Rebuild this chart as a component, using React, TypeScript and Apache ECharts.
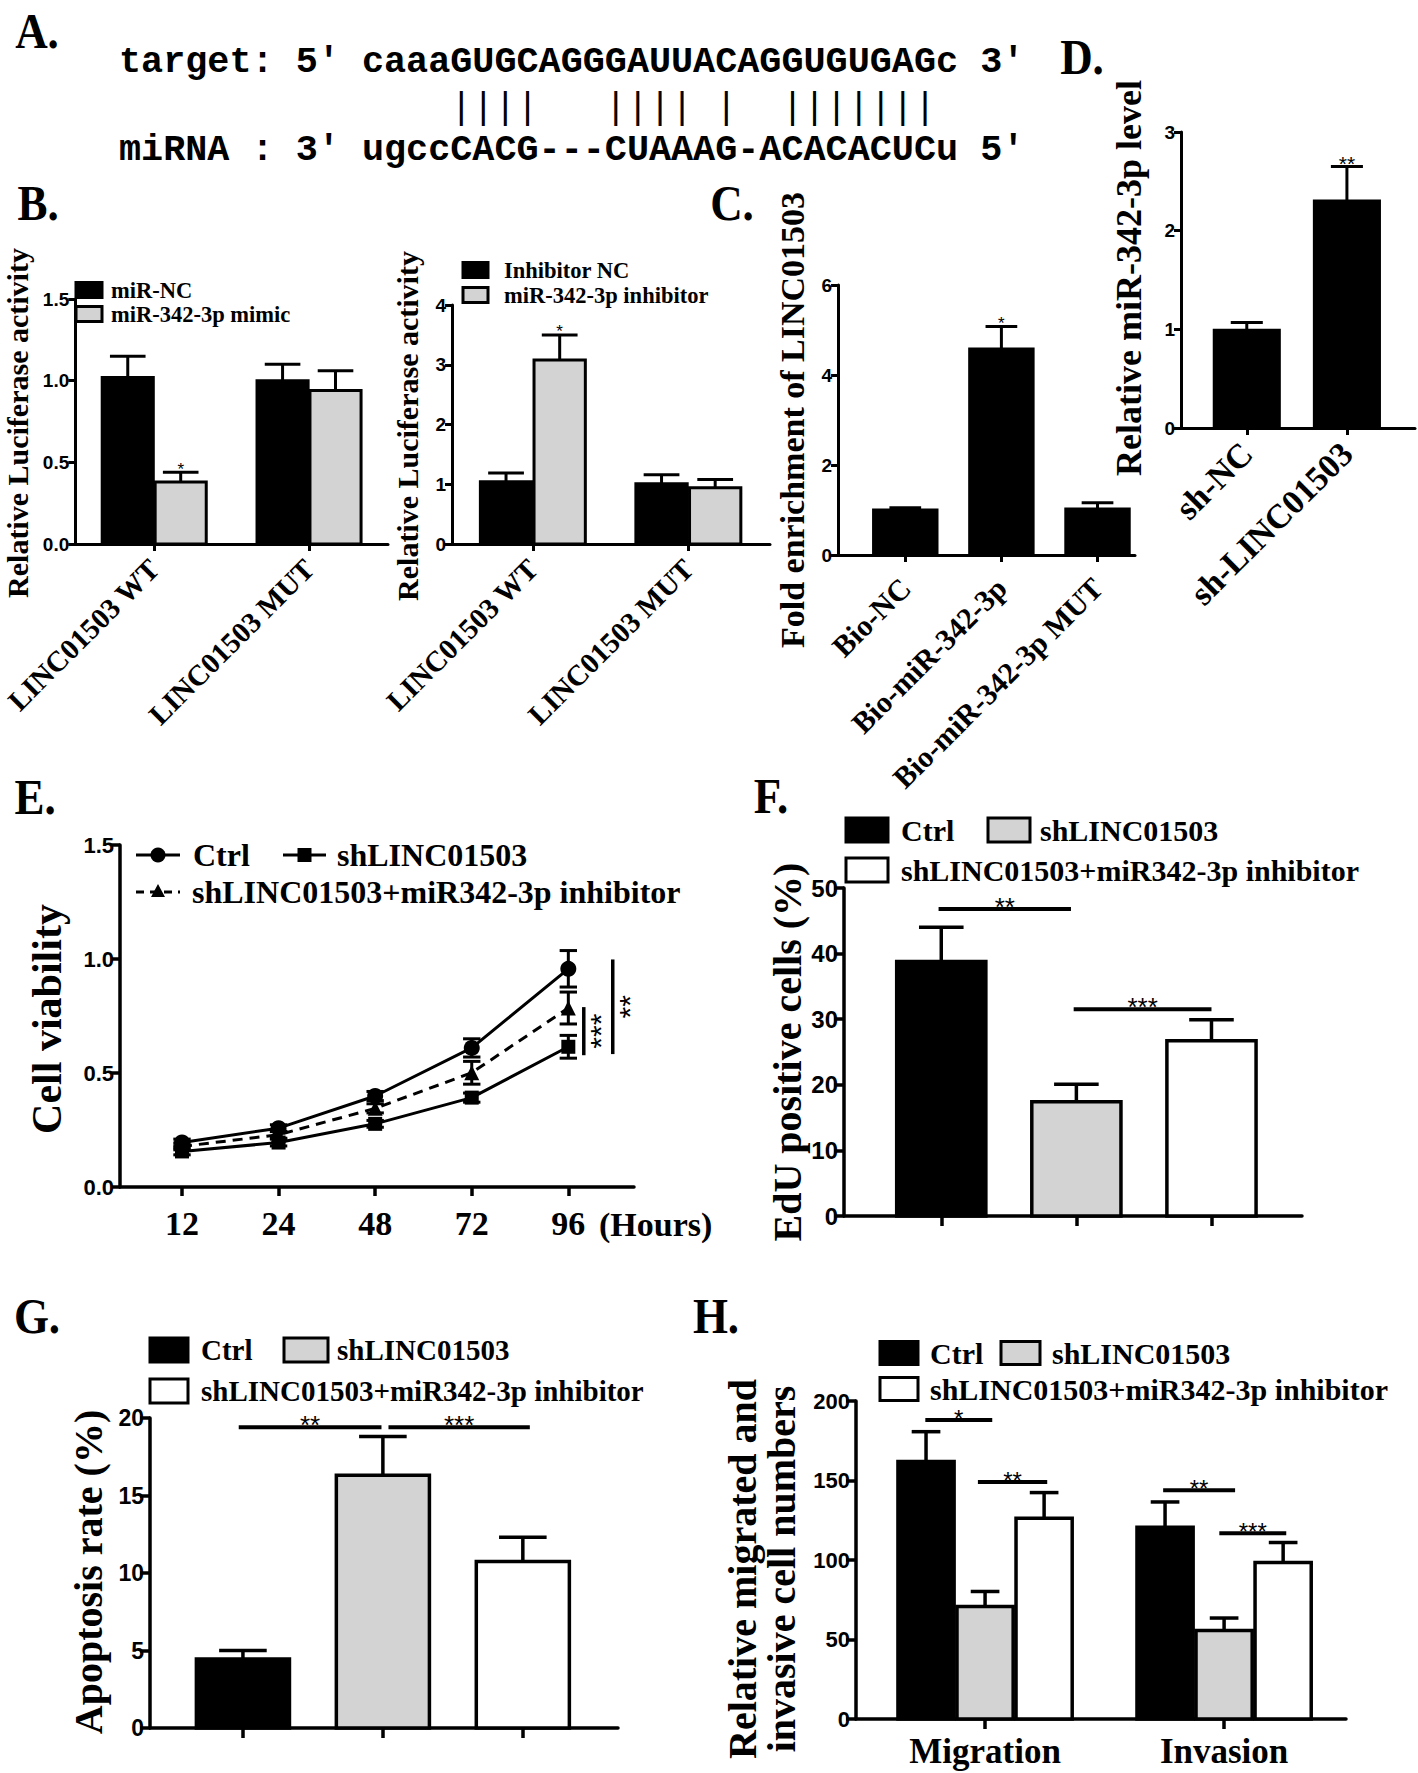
import React, { useEffect, useRef } from "react";
import * as echarts from "echarts";

const PAGE_W = 1418;
const PAGE_H = 1773;
const SERIF = "'Liberation Serif', 'Times New Roman', serif";
const SANS = "'Liberation Sans', Arial, sans-serif";
const MONO = "'Liberation Mono', 'Courier New', monospace";
const FILLS = ["#000000", "#d3d3d3", "#ffffff"];

// ---------------- DATA ----------------
// Panel A
const targetLine = "target: 5' caaaGUGCAGGGAUUACAGGUGUGAGc 3'";
const mirnaLine = "miRNA : 3' ugccCACG---CUAAAG-ACACACUCu 5'";
const pairRuns: [number, number][] = [[15, 4], [22, 4], [27, 1], [30, 7]];

// Panel B
const bCategories = ["LINC01503 WT", "LINC01503 MUT"];
const b1Groups = ["miR-NC", "miR-342-3p mimic"];
const b1Means = [[1.02, 1.0], [0.38, 0.94]];
const b1Upper = [[1.15, 1.1], [0.44, 1.06]];
const b1Stars = [["", ""], ["*", ""]];
const b2Groups = ["Inhibitor NC", "miR-342-3p inhibitor"];
const b2Means = [[1.04, 1.01], [3.08, 0.94]];
const b2Upper = [[1.19, 1.16], [3.5, 1.08]];
const b2Stars = [["", ""], ["*", ""]];

// Panel C
const cCategories = ["Bio-NC", "Bio-miR-342-3p", "Bio-miR-342-3p MUT"];
const cMeans = [1.0, 4.58, 1.02];
const cUpper = [1.05, 5.08, 1.16];
const cStars = ["", "*", ""];

// Panel D
const dCategories = ["sh-NC", "sh-LINC01503"];
const dMeans = [0.99, 2.3];
const dUpper = [1.07, 2.65];
const dStars = ["", "**"];

// Panel E
const eHours = ["12", "24", "48", "72", "96"];
const eNames = ["Ctrl", "shLINC01503", "shLINC01503+miR342-3p inhibitor"];
const eCtrl = [0.195, 0.258, 0.399, 0.61, 0.957];
const eCtrlSd = [0.015, 0.015, 0.02, 0.04, 0.08];
const eSh = [0.156, 0.195, 0.277, 0.392, 0.615];
const eShSd = [0.015, 0.015, 0.015, 0.02, 0.05];
const eInh = [0.178, 0.229, 0.345, 0.501, 0.785];
const eInhSd = [0.015, 0.015, 0.02, 0.05, 0.07];
const eSig = [
  { x: 4.16, y1: 0.578, y2: 0.789, label: "***" },
  { x: 4.46, y1: 0.583, y2: 0.998, label: "**" },
];

// Panels F, G, H
const groupNames = ["Ctrl", "shLINC01503", "shLINC01503+miR342-3p inhibitor"];
const fMeans = [38.8, 17.4, 26.7];
const fUpper = [44.0, 20.1, 29.9];
const fSig = [
  { x1: -0.02, x2: 0.96, y: 46.8, label: "**" },
  { x1: 0.98, x2: 2.0, y: 31.5, label: "***" },
];
const gMeans = [4.45, 16.3, 10.75];
const gUpper = [5.0, 18.8, 12.3];
const gSig = [
  { x1: -0.03, x2: 0.99, y: 19.4, label: "**" },
  { x1: 1.04, x2: 2.05, y: 19.4, label: "***" },
];
const hCategories = ["Migration", "Invasion"];
const hMeans = [[161.9, 120.6], [70.8, 55.7], [126.3, 98.4]];
const hUpper = [[180.7, 136.5], [80.2, 63.5], [142.4, 111.0]];
const hSig = [
  { x1: -0.25, x2: 0.03, y: 188, label: "*" },
  { x1: -0.03, x2: 0.26, y: 149, label: "**" },
  { x1: 0.745, x2: 1.046, y: 143.9, label: "**" },
  { x1: 0.98, x2: 1.26, y: 116.9, label: "***" },
];

// ---------------- HELPERS ----------------
type Item = { x: number; v: number; up: number; fill: number; star: string };
type Sig = { x1: number; x2: number; y: number; label: string };

function grouped(means: number[][], upper: number[][], stars: string[][] | null, step: number): Item[] {
  const n = means.length;
  const out: Item[] = [];
  means.forEach((row, j) =>
    row.forEach((v, i) =>
      out.push({ x: i + (j - (n - 1) / 2) * step, v, up: upper[j][i], fill: j, star: stars ? stars[j][i] : "" })
    )
  );
  return out;
}
function single(means: number[], upper: number[], stars: string[] | null, colorByCat: boolean): Item[] {
  return means.map((v, i) => ({ x: i, v, up: upper[i], fill: colorByCat ? i : 0, star: stars ? stars[i] : "" }));
}

interface PanelCfg {
  grid: { left: number; top: number; width: number; height: number };
  xMin: number;
  xMax: number;
  cats: string[];
  catRotate: number;
  catFont: number;
  catMargin: number;
  yMax: number;
  yInterval: number;
  yDecimals: number;
  tickSize: number;
  tickLen: number;
  lw: number;
}

function addAxes(opt: any, cfg: PanelCfg) {
  const gi = opt.grid.length;
  opt.grid.push({ ...cfg.grid, containLabel: false });
  const ticks = cfg.cats.map((_, i) => i);
  opt.xAxis.push({
    type: "value",
    gridIndex: gi,
    min: cfg.xMin,
    max: cfg.xMax,
    axisLine: { show: true, onZero: false, lineStyle: { color: "#000", width: cfg.lw } },
    axisTick: { show: true, customValues: ticks, length: cfg.tickLen, lineStyle: { color: "#000", width: cfg.lw } },
    axisLabel: cfg.catFont
      ? {
          show: true,
          customValues: ticks,
          formatter: (v: number) => cfg.cats[Math.round(v)] ?? "",
          rotate: cfg.catRotate,
          margin: cfg.catMargin,
          fontFamily: SERIF,
          fontWeight: "bold",
          fontSize: cfg.catFont,
          color: "#000",
        }
      : { show: false },
    splitLine: { show: false },
  });
  opt.yAxis.push({
    type: "value",
    gridIndex: gi,
    min: 0,
    max: cfg.yMax,
    interval: cfg.yInterval,
    axisLine: { show: true, onZero: false, lineStyle: { color: "#000", width: cfg.lw } },
    axisTick: { show: true, length: cfg.tickLen, lineStyle: { color: "#000", width: cfg.lw } },
    axisLabel: {
      formatter: (v: number) => v.toFixed(cfg.yDecimals),
      fontFamily: SANS,
      fontWeight: "bold",
      fontSize: cfg.tickSize,
      color: "#000",
      margin: 6,
    },
    splitLine: { show: false },
  });
  return gi;
}

function addBars(opt: any, gi: number, items: Item[], barW: number, capW: number, lw: number, starSize: number) {
  opt.series.push({
    type: "custom",
    xAxisIndex: gi,
    yAxisIndex: gi,
    clip: false,
    z: 3,
    data: items.map((it) => [it.x, it.v]),
    encode: { x: 0, y: 1 },
    renderItem: (params: any, api: any) => {
      const it = items[params.dataIndex];
      const a = api.coord([it.x - barW / 2, it.v]);
      const b = api.coord([it.x + barW / 2, 0]);
      return {
        type: "rect",
        shape: { x: a[0], y: a[1], width: b[0] - a[0], height: b[1] - a[1] },
        style: { fill: FILLS[it.fill], stroke: "#000", lineWidth: lw },
      };
    },
  });
  opt.series.push({
    type: "custom",
    xAxisIndex: gi,
    yAxisIndex: gi,
    clip: false,
    z: 4,
    data: items.map((it) => [it.x, it.up]),
    encode: { x: 0, y: 1 },
    renderItem: (params: any, api: any) => {
      const it = items[params.dataIndex];
      const p0 = api.coord([it.x, it.v]);
      const p1 = api.coord([it.x, it.up]);
      const half = api.size([capW, 0])[0] / 2;
      const children: any[] = [
        { type: "line", shape: { x1: p0[0], y1: p0[1], x2: p1[0], y2: p1[1] }, style: { stroke: "#000", lineWidth: lw } },
        { type: "line", shape: { x1: p1[0] - half, y1: p1[1], x2: p1[0] + half, y2: p1[1] }, style: { stroke: "#000", lineWidth: lw } },
      ];
      if (it.star) {
        children.push({
          type: "text",
          x: p1[0],
          y: p1[1] - 3,
          style: { text: it.star, fontFamily: SANS, fontSize: starSize, fill: "#000", align: "center", verticalAlign: "middle", textAlign: "center", textVerticalAlign: "middle" },
        });
      }
      return { type: "group", children };
    },
  });
}

function addBrackets(opt: any, gi: number, sigs: Sig[], starSize: number) {
  opt.series.push({
    type: "custom",
    xAxisIndex: gi,
    yAxisIndex: gi,
    clip: false,
    z: 5,
    data: sigs.map((s) => [s.x1, s.y]),
    encode: { x: 0, y: 1 },
    renderItem: (params: any, api: any) => {
      const s = sigs[params.dataIndex];
      const a = api.coord([s.x1, s.y]);
      const b = api.coord([s.x2, s.y]);
      return {
        type: "group",
        children: [
          { type: "line", shape: { x1: a[0], y1: a[1], x2: b[0], y2: b[1] }, style: { stroke: "#000", lineWidth: 4 } },
          {
            type: "text",
            x: (a[0] + b[0]) / 2,
            y: a[1] - 2,
            style: { text: s.label, fontFamily: SANS, fontSize: starSize, fill: "#000", align: "center", verticalAlign: "middle", textAlign: "center", textVerticalAlign: "middle" },
          },
        ],
      };
    },
  });
}

function txt(text: string, x: number, y: number, fs: number, opts: any = {}) {
  return {
    type: "text",
    x,
    y,
    rotation: opts.rotation || 0,
    scaleX: opts.scaleX || 1,
    style: {
      text,
      fontFamily: opts.family || SERIF,
      fontWeight: opts.weight || "bold",
      fontSize: fs,
      fill: "#000",
      align: opts.align || "left",
      verticalAlign: "middle",
      textAlign: opts.align || "left",
      textVerticalAlign: "middle",
    },
  };
}
function vtitle(text: string, x: number, y: number, fs: number) {
  return txt(text, x, y, fs, { rotation: Math.PI / 2, align: "center" });
}
function letter(text: string, x: number, y: number) {
  return txt(text, x, y, 50, { align: "center", scaleX: 0.9 });
}
function legendBox(x: number, yc: number, w: number, h: number, fill: string, label: string, tx: number, fs: number) {
  return [
    { type: "rect", shape: { x, y: yc - h / 2, width: w, height: h }, style: { fill, stroke: "#000", lineWidth: 3 } },
    txt(label, tx, yc, fs),
  ];
}

function buildOption() {
  const opt: any = { animation: false, backgroundColor: "#fff", grid: [], xAxis: [], yAxis: [], series: [], graphic: { elements: [] } };
  const g: any[] = opt.graphic.elements;

  // ---- Panel A ----
  const aFs = 36.8;
  const cw = aFs * 0.6;
  const ax = 119;
  g.push(letter("A.", 37, 31));
  g.push(txt(targetLine, ax, 62, aFs, { family: MONO }));
  pairRuns.forEach(([start, len]) => g.push(txt("|".repeat(len), ax + start * cw, 108, aFs, { family: MONO, weight: "normal" })));
  g.push(txt(mirnaLine, ax, 150, aFs, { family: MONO }));

  // ---- Panel B left ----
  const base = { catRotate: 45, tickSize: 19, tickLen: 7, lw: 3 };
  let gi = addAxes(opt, { ...base, grid: { left: 72, top: 299, width: 316, height: 245 }, xMin: -0.51, xMax: 1.51, cats: bCategories, catFont: 29, catMargin: 20, yMax: 1.5, yInterval: 0.5, yDecimals: 1 });
  addBars(opt, gi, grouped(b1Means, b1Upper, b1Stars, 0.342), 0.33, 0.23, 3, 17);
  g.push(letter("B.", 38, 203));
  g.push(vtitle("Relative Luciferase activity", 17, 423, 30));
  g.push(...legendBox(76, 290, 26, 15, FILLS[0], b1Groups[0], 111, 22.5));
  g.push(...legendBox(76, 314, 26, 15, FILLS[1], b1Groups[1], 111, 22.5));

  // ---- Panel B right ----
  gi = addAxes(opt, { ...base, grid: { left: 452, top: 305, width: 318, height: 239 }, xMin: -0.52, xMax: 1.525, cats: bCategories, catFont: 29, catMargin: 20, yMax: 4, yInterval: 1, yDecimals: 0 });
  addBars(opt, gi, grouped(b2Means, b2Upper, b2Stars, 0.345), 0.33, 0.23, 3, 17);
  g.push(vtitle("Relative Luciferase activity", 407, 426, 30));
  g.push(...legendBox(463, 270, 25, 15, FILLS[0], b2Groups[0], 504, 22.5));
  g.push(...legendBox(463, 295, 25, 15, FILLS[1], b2Groups[1], 504, 22.5));

  // ---- Panel C ----
  gi = addAxes(opt, { ...base, grid: { left: 838, top: 285, width: 297, height: 270 }, xMin: -0.7, xMax: 2.39, cats: cCategories, catFont: 30, catMargin: 28, yMax: 6, yInterval: 2, yDecimals: 0 });
  addBars(opt, gi, single(cMeans, cUpper, cStars, false), 0.66, 0.33, 3, 17);
  g.push(letter("C.", 732, 203));
  g.push(vtitle("Fold enrichment of LINC01503", 792, 420, 34));

  // ---- Panel D ----
  gi = addAxes(opt, { ...base, grid: { left: 1181, top: 132, width: 234, height: 296 }, xMin: -0.657, xMax: 1.68, cats: dCategories, catFont: 34, catMargin: 20, yMax: 3, yInterval: 1, yDecimals: 0 });
  addBars(opt, gi, single(dMeans, dUpper, dStars, false), 0.65, 0.32, 3, 21);
  g.push(letter("D.", 1082, 57));
  g.push(vtitle("Relative miR-342-3p level", 1129, 278, 36));

  // ---- Panel E ----
  const eCfg: PanelCfg = { grid: { left: 120, top: 845, width: 514, height: 342 }, xMin: -0.642, xMax: 4.68, cats: eHours, catRotate: 0, catFont: 34, catMargin: 19, yMax: 1.5, yInterval: 0.5, yDecimals: 1, tickSize: 22, tickLen: 9, lw: 3.5 };
  gi = addAxes(opt, eCfg);
  const eSets = [
    { name: eNames[0], vals: eCtrl, sd: eCtrlSd, sym: "circle", size: 16, dash: false },
    { name: eNames[1], vals: eSh, sd: eShSd, sym: "rect", size: 14, dash: false },
    { name: eNames[2], vals: eInh, sd: eInhSd, sym: "triangle", size: 15, dash: true },
  ];
  eSets.forEach((s) => {
    opt.series.push({
      type: "line",
      name: s.name,
      xAxisIndex: gi,
      yAxisIndex: gi,
      data: s.vals.map((v, i) => [i, v]),
      symbol: s.sym,
      symbolSize: s.size,
      itemStyle: { color: "#000" },
      lineStyle: { color: "#000", width: 3, type: s.dash ? [10, 7] : "solid" },
      z: 3,
    });
    opt.series.push({
      type: "custom",
      xAxisIndex: gi,
      yAxisIndex: gi,
      clip: false,
      z: 4,
      data: s.vals.map((v, i) => [i, v - s.sd[i], v + s.sd[i]]),
      encode: { x: 0, y: [1, 2] },
      renderItem: (params: any, api: any) => {
        const x = api.value(0);
        const lo = api.coord([x, api.value(1)]);
        const hi = api.coord([x, api.value(2)]);
        const half = api.size([0.18, 0])[0] / 2;
        const st = { stroke: "#000", lineWidth: 3 };
        return {
          type: "group",
          children: [
            { type: "line", shape: { x1: lo[0], y1: lo[1], x2: hi[0], y2: hi[1] }, style: st },
            { type: "line", shape: { x1: lo[0] - half, y1: lo[1], x2: lo[0] + half, y2: lo[1] }, style: st },
            { type: "line", shape: { x1: hi[0] - half, y1: hi[1], x2: hi[0] + half, y2: hi[1] }, style: st },
          ],
        };
      },
    });
  });
  opt.series.push({
    type: "custom",
    xAxisIndex: gi,
    yAxisIndex: gi,
    clip: false,
    z: 5,
    data: eSig.map((s) => [s.x, s.y1, s.y2]),
    encode: { x: 0, y: [1, 2] },
    renderItem: (params: any, api: any) => {
      const s = eSig[params.dataIndex];
      const a = api.coord([s.x, s.y1]);
      const b = api.coord([s.x, s.y2]);
      const t = api.coord([s.x + 0.17, (s.y1 + s.y2) / 2]);
      return {
        type: "group",
        children: [
          { type: "line", shape: { x1: a[0], y1: a[1], x2: b[0], y2: b[1] }, style: { stroke: "#000", lineWidth: 3.5 } },
          {
            type: "text",
            x: t[0],
            y: t[1],
            rotation: Math.PI / 2,
            style: { text: s.label, fontFamily: SANS, fontSize: 30, fill: "#000", align: "center", verticalAlign: "middle", textAlign: "center", textVerticalAlign: "middle" },
          },
        ],
      };
    },
  });
  g.push(letter("E.", 35, 797));
  g.push(vtitle("Cell viability", 47, 1019, 42));
  g.push(txt("(Hours)", 599, 1224, 34));
  // E legend
  const eL = (y: number, x0: number, x1: number, kind: string, dash: boolean) => {
    const xc = (x0 + x1) / 2;
    const els: any[] = [{ type: "line", shape: { x1: x0, y1: y, x2: x1, y2: y }, style: { stroke: "#000", lineWidth: 3, lineDash: dash ? [8, 6] : null } }];
    if (kind === "circle") els.push({ type: "circle", shape: { cx: xc, cy: y, r: 7.5 }, style: { fill: "#000" } });
    if (kind === "rect") els.push({ type: "rect", shape: { x: xc - 7, y: y - 7, width: 14, height: 14 }, style: { fill: "#000" } });
    if (kind === "triangle") els.push({ type: "polygon", shape: { points: [[xc, y - 8], [xc + 7, y + 5], [xc - 7, y + 5]] }, style: { fill: "#000" } });
    return els;
  };
  g.push(...eL(855, 136, 180, "circle", false), txt(eNames[0], 193, 855, 32));
  g.push(...eL(855, 283, 326, "rect", false), txt(eNames[1], 337, 855, 32));
  g.push(...eL(892, 136, 180, "triangle", true), txt(eNames[2], 192, 892, 32));

  // ---- Panel F ----
  const tri = { catRotate: 0, catFont: 0, catMargin: 10, tickSize: 24, tickLen: 10, lw: 3.5 };
  gi = addAxes(opt, { ...tri, grid: { left: 844, top: 888, width: 458, height: 328 }, xMin: -0.72, xMax: 2.67, cats: groupNames, yMax: 50, yInterval: 10, yDecimals: 0 });
  addBars(opt, gi, single(fMeans, fUpper, null, true), 0.66, 0.33, 3.5, 20);
  addBrackets(opt, gi, fSig, 26);
  g.push(letter("F.", 771, 796));
  g.push(vtitle("EdU positive cells (%)", 787, 1052, 40));
  g.push(...legendBox(846, 830, 42, 24, FILLS[0], groupNames[0], 901, 30));
  g.push(...legendBox(988, 830, 42, 24, FILLS[1], groupNames[1], 1040, 30));
  g.push(...legendBox(846, 870, 42, 24, FILLS[2], groupNames[2], 901, 30));

  // ---- Panel G ----
  gi = addAxes(opt, { ...tri, tickSize: 23, grid: { left: 150, top: 1418, width: 468, height: 310 }, xMin: -0.664, xMax: 2.68, cats: groupNames, yMax: 20, yInterval: 5, yDecimals: 0 });
  addBars(opt, gi, single(gMeans, gUpper, null, true), 0.665, 0.34, 3.5, 20);
  addBrackets(opt, gi, gSig, 26);
  g.push(letter("G.", 37, 1316));
  g.push(vtitle("Apoptosis rate (%)", 88, 1572, 40));
  g.push(...legendBox(150, 1350, 38, 24, FILLS[0], groupNames[0], 201, 29));
  g.push(...legendBox(284, 1350, 44, 24, FILLS[1], groupNames[1], 337, 29));
  g.push(...legendBox(150, 1391, 38, 24, FILLS[2], groupNames[2], 201, 29));

  // ---- Panel H ----
  gi = addAxes(opt, { ...tri, tickSize: 22, grid: { left: 856, top: 1401, width: 490, height: 318 }, xMin: -0.54, xMax: 1.51, cats: hCategories, catFont: 35, catMargin: 15, yMax: 200, yInterval: 50, yDecimals: 0 });
  addBars(opt, gi, grouped(hMeans, hUpper, null, 0.247), 0.235, 0.12, 3.5, 20);
  addBrackets(opt, gi, hSig, 24);
  g.push(letter("H.", 716, 1316));
  g.push(vtitle("Relative migrated and", 742, 1569, 40));
  g.push(vtitle("invasive cell numbers", 781, 1569, 40));
  g.push(...legendBox(880, 1353, 38, 23, FILLS[0], groupNames[0], 930, 30));
  g.push(...legendBox(1001, 1353, 39, 23, FILLS[1], groupNames[1], 1052, 30));
  g.push(...legendBox(880, 1389, 38, 23, FILLS[2], groupNames[2], 930, 30));

  return opt;
}

export default function App() {
  const ref = useRef<HTMLDivElement>(null);
  useEffect(() => {
    if (!ref.current) return;
    const chart = echarts.init(ref.current, null, { renderer: "svg", width: PAGE_W, height: PAGE_H });
    chart.setOption(buildOption());
    return () => chart.dispose();
  }, []);
  return (
    <div
      ref={ref}
      style={{ position: "absolute", left: 0, top: 0, width: PAGE_W, height: PAGE_H, background: "#fff" }}
    />
  );
}
